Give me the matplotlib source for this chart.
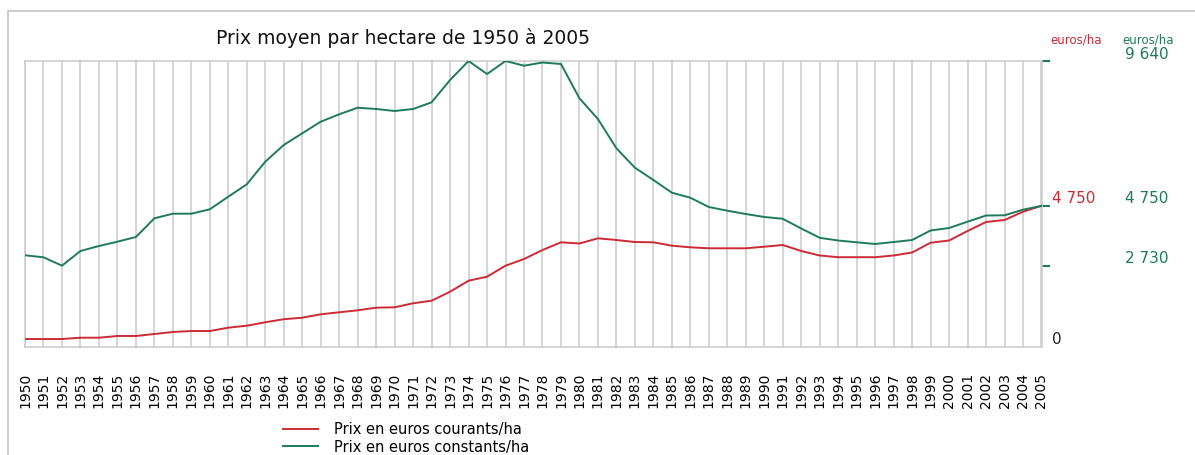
import matplotlib
matplotlib.use("Agg")
import matplotlib.pyplot as plt
import matplotlib.transforms as mtransforms
from matplotlib.patches import Rectangle

years = list(range(1950, 2006))

# prix en euros courants / ha
courants = [253, 253, 253, 297, 297, 355, 355, 422, 490, 523,
            523, 635, 702, 817, 922, 972, 1087, 1155, 1222, 1310,
            1324, 1459, 1546, 1850, 2222, 2357, 2728, 2954, 3258, 3518,
            3478, 3653, 3596, 3528, 3518, 3404, 3349, 3316, 3316, 3316,
            3370, 3427, 3225, 3073, 3015, 3015, 3015, 3073, 3174, 3505,
            3579, 3900, 4204, 4271, 4551, 4750]

# prix en euros constants / ha
constants = [3080, 3012, 2730, 3225, 3393, 3539, 3697, 4329, 4484, 4484,
             4633, 5058, 5477, 6240, 6804, 7199, 7590, 7840, 8063, 8019,
             7952, 8019, 8245, 8999, 9640, 9201, 9640, 9481, 9589, 9539,
             8380, 7681, 6692, 6037, 5622, 5193, 5024, 4710, 4585, 4474,
             4373, 4312, 3984, 3670, 3579, 3518, 3461, 3528, 3596, 3917,
             4001, 4214, 4423, 4430, 4619, 4750]

tick_vals = [2730, 4750, 9640]
red_labels = {4750: "4 750"}
green_labels = {9640: "9 640", 4750: "4 750", 2730: "2 730"}

RED = "#cc2a36"
GREEN = "#1e7a5a"
GRID = "#cacaca"

W, H = 1195, 455
fig = plt.figure(figsize=(W / 100, H / 100), dpi=100)
fig.patch.set_facecolor("white")

# outer frame
fig.add_artist(Rectangle((8 / W, -0.2), 1.2, 1.2 - 11 / H, transform=fig.transFigure,
                         fill=False, edgecolor="#c4c4c4", lw=1.2))

ax = fig.add_axes([25 / W, (H - 346.5) / H, 1016.5 / W, 285.5 / H])
ax.plot(years, courants, color=RED, lw=1.4, label="Prix en euros courants/ha", zorder=3)
ax.plot(years, constants, color=GREEN, lw=1.4, label="Prix en euros constants/ha", zorder=3)

ax.set_xlim(1950, 2005)
ax.set_ylim(0, 9640)
ax.set_xticks(years)
ax.set_xticklabels([str(y) for y in years], rotation=90, fontsize=10,
                   va="top", ha="center")
ax.tick_params(axis="x", length=0, pad=19)
ax.grid(axis="x", color=GRID, lw=1.1)
for s in ax.spines.values():
    s.set_color(GRID)
    s.set_linewidth(1.1)

ax.yaxis.tick_right()
ax.set_yticks(tick_vals)
ax.set_yticklabels([])
ax.tick_params(axis="y", colors=GREEN, length=6, width=1.5, direction="out")

# labels on the right, slightly above their ticks
ytr = ax.get_yaxis_transform()
lift = mtransforms.offset_copy(ytr, fig=fig, y=5, units="points")
for v, t in red_labels.items():
    ax.text(1.0103, v, t, transform=lift, color=RED, fontsize=11, va="center", ha="left")
for v, t in green_labels.items():
    ax.text(1.0821, v, t, transform=lift, color=GREEN, fontsize=11, va="center", ha="left")
ax.text(1.0103, 0, "0", transform=lift, color="#222222", fontsize=11, va="center", ha="left")
ax.text(1.0084, 1.0735, "euros/ha", transform=ax.transAxes, color=RED, fontsize=8.5,
        va="center", ha="left")
ax.text(1.080, 1.0735, "euros/ha", transform=ax.transAxes, color=GREEN, fontsize=8.5,
        va="center", ha="left")

fig.text(403 / W, 1 - 38 / H, "Prix moyen par hectare de 1950 à 2005", fontsize=13.5,
         ha="center", va="center", color="#111111")

fig.legend(loc="center left", bbox_to_anchor=(283 / W, 1 - 438.5 / H), frameon=False,
           fontsize=10.5, handlelength=2.4, handletextpad=1.1, labelspacing=0.15,
           borderpad=0, borderaxespad=0)

fig.savefig("out.png", dpi=100)
